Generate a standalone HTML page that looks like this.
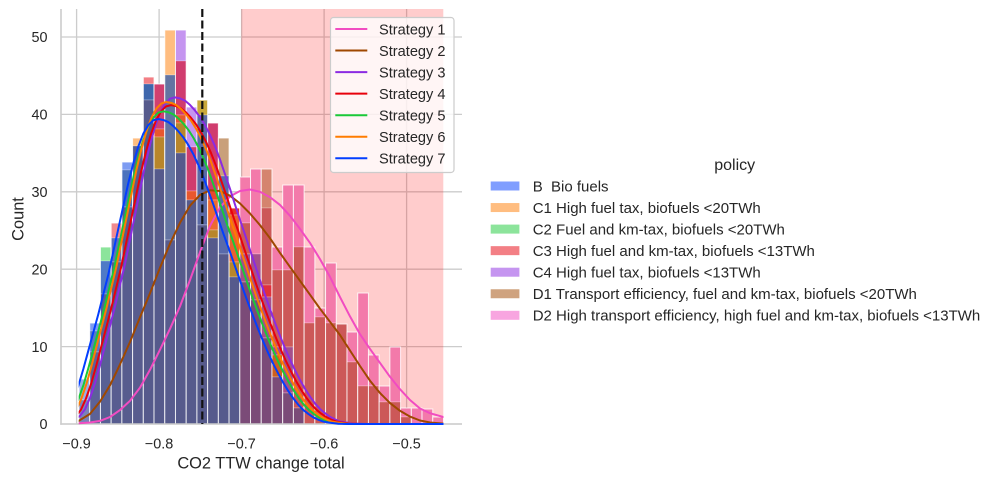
<!DOCTYPE html>
<html><head><meta charset="utf-8"><style>
html,body{margin:0;padding:0;background:#fff;}
svg{display:block;font-family:"Liberation Sans",Arial,sans-serif;}
.b rect{stroke:#fff;stroke-opacity:.3;stroke-width:.8;}
.b rect.o{fill:none;stroke:#fff;stroke-opacity:.75;stroke-width:1;}
.t{font-size:14.4px;fill:#262626;}
.lg{font-size:14.6px;fill:#262626;}
.pl{font-size:15px;fill:#262626;}
.k{fill:none;stroke-width:2;stroke-linejoin:round;stroke-linecap:round;}
</style></head><body>
<svg width="1000" height="482" viewBox="0 0 1000 482" xmlns="http://www.w3.org/2000/svg">
<rect width="1000" height="482" fill="#fff"/>
<g stroke="#cccccc" stroke-width="1.3">
<line x1="61" y1="424" x2="462" y2="424"/>
<line x1="61" y1="346.6" x2="462" y2="346.6"/>
<line x1="61" y1="269.2" x2="462" y2="269.2"/>
<line x1="61" y1="191.8" x2="462" y2="191.8"/>
<line x1="61" y1="114.4" x2="462" y2="114.4"/>
<line x1="61" y1="37" x2="462" y2="37"/>
<line x1="76.6" y1="9" x2="76.6" y2="424"/>
<line x1="159.1" y1="9" x2="159.1" y2="424"/>
<line x1="241.6" y1="9" x2="241.6" y2="424"/>
<line x1="324.1" y1="9" x2="324.1" y2="424"/>
<line x1="406.6" y1="9" x2="406.6" y2="424"/>
</g>
<rect x="241.3" y="9" width="202" height="415" fill="#ff0000" fill-opacity="0.2"/>

<g class="b">
<g transform="translate(79,0)"><rect y="379" width="10.72" height="21" fill="#9aaee8"/><rect y="400" width="10.72" height="24" fill="#7a82b8"/><rect class="o" y="379" width="10.72" height="45"/></g>
<g transform="translate(89.72,0)"><rect y="323" width="10.72" height="8" fill="#7d9cf0"/><rect y="331" width="10.72" height="21" fill="#5a7ac4"/><rect y="352" width="10.72" height="72" fill="#5c6298"/><rect class="o" y="323" width="10.72" height="101"/></g>
<g transform="translate(100.44,0)"><rect y="247" width="10.72" height="14" fill="#8ce49b"/><rect y="261" width="10.72" height="33" fill="#4f7ac6"/><rect y="294" width="10.72" height="130" fill="#586094"/><rect class="o" y="247" width="10.72" height="177"/></g>
<g transform="translate(111.16,0)"><rect y="223" width="10.72" height="15" fill="#f08a8f"/><rect y="238" width="10.72" height="24" fill="#5f72b6"/><rect y="262" width="10.72" height="162" fill="#585d90"/><rect class="o" y="223" width="10.72" height="201"/></g>
<g transform="translate(121.88,0)"><rect y="162" width="10.72" height="8" fill="#7d9cf2"/><rect y="170" width="10.72" height="37" fill="#4a72bd"/><rect y="207" width="10.72" height="217" fill="#575c8e"/><rect class="o" y="162" width="10.72" height="262"/></g>
<g transform="translate(132.6,0)"><rect y="138" width="10.72" height="8" fill="#ffbd80"/><rect y="146" width="10.72" height="278" fill="#585c8e"/><rect class="o" y="138" width="10.72" height="286"/></g>
<g transform="translate(143.32,0)"><rect y="77" width="10.72" height="7" fill="#f37f85"/><rect y="84" width="10.72" height="16" fill="#3f67ad"/><rect y="100" width="10.72" height="324" fill="#565a8c"/><rect class="o" y="77" width="10.72" height="347"/></g>
<g transform="translate(154.04,0)"><rect y="84" width="10.72" height="45" fill="#d23f70"/><rect y="129" width="10.72" height="8" fill="#e8572e"/><rect y="137" width="10.72" height="32" fill="#b8862b"/><rect y="169" width="10.72" height="255" fill="#565a8c"/><rect class="o" y="84" width="10.72" height="340"/></g>
<g transform="translate(164.76,0)"><rect y="30" width="10.72" height="45" fill="#ffbd80"/><rect y="75" width="10.72" height="165" fill="#6474a2"/><rect y="240" width="10.72" height="184" fill="#585c8e"/><rect class="o" y="30" width="10.72" height="394"/></g>
<g transform="translate(175.48,0)"><rect y="30" width="10.72" height="31" fill="#c595f0"/><rect y="61" width="10.72" height="54" fill="#d03c6e"/><rect y="115" width="10.72" height="8" fill="#e8572e"/><rect y="123" width="10.72" height="30" fill="#b8862b"/><rect y="153" width="10.72" height="271" fill="#565a8c"/><rect class="o" y="30" width="10.72" height="394"/></g>
<g transform="translate(186.2,0)"><rect y="107" width="10.72" height="40" fill="#c595f0"/><rect y="147" width="10.72" height="44" fill="#d03c6e"/><rect y="191" width="10.72" height="9" fill="#e8572e"/><rect y="200" width="10.72" height="224" fill="#565a8c"/><rect class="o" y="107" width="10.72" height="317"/></g>
<g transform="translate(196.92,0)"><rect y="100" width="10.72" height="15" fill="#c9a83a"/><rect y="115" width="10.72" height="110" fill="#5b6aa6"/><rect y="225" width="10.72" height="199" fill="#565a8c"/><rect class="o" y="100" width="10.72" height="324"/></g>
<g transform="translate(207.64,0)"><rect y="123" width="10.72" height="67" fill="#d03c6e"/><rect y="190" width="10.72" height="10" fill="#e8472e"/><rect y="200" width="10.72" height="30" fill="#ee6a30"/><rect y="230" width="10.72" height="8" fill="#b8862b"/><rect y="238" width="10.72" height="186" fill="#565a8c"/><rect class="o" y="123" width="10.72" height="301"/></g>
<g transform="translate(218.36,0)"><rect y="138" width="10.72" height="38" fill="#c9a07a"/><rect y="176" width="10.72" height="78" fill="#5a6aaa"/><rect y="254" width="10.72" height="170" fill="#565a8c"/><rect class="o" y="138" width="10.72" height="286"/></g>
<g transform="translate(229.08,0)"><rect y="208" width="10.72" height="7" fill="#e8302a"/><rect y="215" width="10.72" height="47" fill="#ea6030"/><rect y="262" width="10.72" height="15" fill="#b8862b"/><rect y="277" width="10.72" height="147" fill="#565a8c"/><rect class="o" y="208" width="10.72" height="216"/></g>
<g transform="translate(239.8,0)"><rect y="177" width="10.72" height="46" fill="#f37aaa"/><rect y="223" width="10.72" height="31" fill="#cc5858"/><rect y="254" width="10.72" height="28" fill="#a5508a"/><rect y="282" width="10.72" height="142" fill="#7b4b78"/><rect class="o" y="177" width="10.72" height="247"/></g>
<g transform="translate(250.52,0)"><rect y="169" width="10.72" height="85" fill="#f37aaa"/><rect y="254" width="10.72" height="46" fill="#a5508a"/><rect y="300" width="10.72" height="124" fill="#7b4b78"/><rect class="o" y="169" width="10.72" height="255"/></g>
<g transform="translate(261.24,0)"><rect y="169" width="10.72" height="39" fill="#d5846e"/><rect y="208" width="10.72" height="77" fill="#cc5858"/><rect y="285" width="10.72" height="12" fill="#e0303c"/><rect y="297" width="10.72" height="41" fill="#a5508a"/><rect y="338" width="10.72" height="86" fill="#7b4b78"/><rect class="o" y="169" width="10.72" height="255"/></g>
<g transform="translate(271.96,0)"><rect y="247" width="10.72" height="23" fill="#f37aaa"/><rect y="270" width="10.72" height="77" fill="#cc5858"/><rect y="347" width="10.72" height="8" fill="#a04a90"/><rect y="355" width="10.72" height="22" fill="#cc6020"/><rect y="377" width="10.72" height="47" fill="#7b4b78"/><rect class="o" y="247" width="10.72" height="177"/></g>
<g transform="translate(282.68,0)"><rect y="185" width="10.72" height="85" fill="#f37aaa"/><rect y="270" width="10.72" height="77" fill="#cc5858"/><rect y="347" width="10.72" height="46" fill="#a5508a"/><rect y="393" width="10.72" height="31" fill="#7b4b78"/><rect class="o" y="185" width="10.72" height="239"/></g>
<g transform="translate(293.4,0)"><rect y="185" width="10.72" height="62" fill="#f37aaa"/><rect y="247" width="10.72" height="161" fill="#cc5858"/><rect y="408" width="10.72" height="16" fill="#7b4b78"/><rect class="o" y="185" width="10.72" height="239"/></g>
<g transform="translate(304.12,0)"><rect y="247" width="10.72" height="76" fill="#f37aaa"/><rect y="323" width="10.72" height="101" fill="#cc5858"/><rect class="o" y="247" width="10.72" height="177"/></g>
<g transform="translate(314.84,0)"><rect y="308" width="10.72" height="9" fill="#f37aaa"/><rect y="317" width="10.72" height="107" fill="#cc5858"/><rect class="o" y="308" width="10.72" height="116"/></g>
<g transform="translate(325.56,0)"><rect y="263" width="10.72" height="60" fill="#f37aaa"/><rect y="323" width="10.72" height="101" fill="#cc5858"/><rect class="o" y="263" width="10.72" height="161"/></g>
<g transform="translate(336.28,0)"><rect y="324" width="10.72" height="100" fill="#cc5858"/><rect class="o" y="324" width="10.72" height="100"/></g>
<g transform="translate(347,0)"><rect y="332" width="10.72" height="30" fill="#f37aaa"/><rect y="362" width="10.72" height="62" fill="#cc5858"/><rect class="o" y="332" width="10.72" height="92"/></g>
<g transform="translate(357.72,0)"><rect y="293" width="10.72" height="93" fill="#f37aaa"/><rect y="386" width="10.72" height="38" fill="#cc5858"/><rect class="o" y="293" width="10.72" height="131"/></g>
<g transform="translate(368.44,0)"><rect y="355" width="10.72" height="31" fill="#f37aaa"/><rect y="386" width="10.72" height="38" fill="#cc5858"/><rect class="o" y="355" width="10.72" height="69"/></g>
<g transform="translate(379.16,0)"><rect y="386" width="10.72" height="16" fill="#f37aaa"/><rect y="402" width="10.72" height="22" fill="#cc5858"/><rect class="o" y="386" width="10.72" height="38"/></g>
<g transform="translate(389.88,0)"><rect y="347" width="10.72" height="55" fill="#f37aaa"/><rect y="402" width="10.72" height="22" fill="#cc5858"/><rect class="o" y="347" width="10.72" height="77"/></g>
<g transform="translate(400.6,0)"><rect y="408" width="10.72" height="9" fill="#f37aaa"/><rect y="417" width="10.72" height="7" fill="#cc5858"/><rect class="o" y="408" width="10.72" height="16"/></g>
<g transform="translate(411.32,0)"><rect y="408" width="10.72" height="16" fill="#f37aaa"/><rect class="o" y="408" width="10.72" height="16"/></g>
<g transform="translate(422.04,0)"><rect y="409" width="10.72" height="15" fill="#f37aaa"/><rect class="o" y="409" width="10.72" height="15"/></g>
<g transform="translate(432.76,0)"><rect y="417" width="10.72" height="7" fill="#f37aaa"/><rect class="o" y="417" width="10.72" height="7"/></g>
</g>

<g stroke="#cccccc" stroke-width="1.6">
<line x1="61" y1="9" x2="61" y2="424.8"/>
<line x1="60.2" y1="424" x2="462" y2="424"/>
</g>

<defs>
<clipPath id="kc"><rect x="78.7" y="0" width="364.8" height="440"/></clipPath>
</defs>
<g clip-path="url(#kc)">
<polyline class="k" stroke="#f14cc1" points="78.7,423.2 90,422.5 100,420.9 110,417.0 120,410.1 130,400.8 140,387.6 150,369.8 160,349.7 170,328.8 180,306.4 190,280.0 200,252.2 210,225.9 220,207.3 230,196.4 240,191.0 250,189.5 260,191.8 270,197.2 280,204.9 290,215.8 300,228.9 310,242.9 320,259.1 330,276.9 340,297.1 350,316.4 360,334.2 370,348.9 380,362.9 390,376.8 400,389.2 410,400.0 420,408.5 430,413.2 443.3,417.0"/>
<polyline class="k" stroke="#9f4800" points="78.7,420.9 90,413.9 100,401.6 110,385.3 120,364.4 130,342.0 140,317.2 150,293.2 160,267.7 170,243.7 180,222.8 190,205.7 200,194.9 210,190.3 220,191.0 230,195.7 240,203.4 250,213.5 260,225.1 270,238.2 280,252.9 290,266.9 300,280.8 310,294.7 320,308.7 330,321.8 340,335.0 350,350.5 360,366.0 370,380.7 380,393.0 390,403.1 400,410.8 410,416.6 420,420.5 430,422.5 443.3,423.6"/>
<path class="k" vector-effect="non-scaling-stroke" stroke="#8b2be2" transform="translate(175,424) scale(1,326.6)" d="M-100,-0.015 L-95,-0.025 -90,-0.045 -85,-0.08 -80,-0.125 -75,-0.18 -70,-0.24 -65,-0.30 -60,-0.36 -55,-0.425 -50,-0.49 -45,-0.565 -40,-0.64 -35,-0.715 -30,-0.79 -25,-0.855 -20,-0.91 -15,-0.952 -10,-0.98 -5,-0.996 0,-1 5,-0.997 10,-0.99 15,-0.977 20,-0.96 25,-0.94 30,-0.915 35,-0.885 40,-0.85 45,-0.81 50,-0.765 55,-0.72 60,-0.672 65,-0.625 70,-0.58 75,-0.533 80,-0.487 85,-0.44 90,-0.395 95,-0.352 100,-0.31 105,-0.27 110,-0.232 115,-0.197 120,-0.165 125,-0.135 130,-0.108 135,-0.084 140,-0.063 145,-0.046 150,-0.033 155,-0.022 160,-0.014 165,-0.008 170,-0.005 180,-0.001 190,0 320,0"/>
<path class="k" vector-effect="non-scaling-stroke" stroke="#e8000b" transform="translate(171,424) scale(1,318.9)" d="M-100,-0.015 L-95,-0.025 -90,-0.045 -85,-0.08 -80,-0.125 -75,-0.18 -70,-0.24 -65,-0.30 -60,-0.36 -55,-0.425 -50,-0.49 -45,-0.565 -40,-0.64 -35,-0.715 -30,-0.79 -25,-0.855 -20,-0.91 -15,-0.952 -10,-0.98 -5,-0.996 0,-1 5,-0.997 10,-0.99 15,-0.977 20,-0.96 25,-0.94 30,-0.915 35,-0.885 40,-0.85 45,-0.81 50,-0.765 55,-0.72 60,-0.672 65,-0.625 70,-0.58 75,-0.533 80,-0.487 85,-0.44 90,-0.395 95,-0.352 100,-0.31 105,-0.27 110,-0.232 115,-0.197 120,-0.165 125,-0.135 130,-0.108 135,-0.084 140,-0.063 145,-0.046 150,-0.033 155,-0.022 160,-0.014 165,-0.008 170,-0.005 180,-0.001 190,0 320,0"/>
<path class="k" vector-effect="non-scaling-stroke" stroke="#1ac938" transform="translate(163.5,424) scale(1,312.7)" d="M-100,-0.015 L-95,-0.025 -90,-0.045 -85,-0.08 -80,-0.125 -75,-0.18 -70,-0.24 -65,-0.30 -60,-0.36 -55,-0.425 -50,-0.49 -45,-0.565 -40,-0.64 -35,-0.715 -30,-0.79 -25,-0.855 -20,-0.91 -15,-0.952 -10,-0.98 -5,-0.996 0,-1 5,-0.997 10,-0.99 15,-0.977 20,-0.96 25,-0.94 30,-0.915 35,-0.885 40,-0.85 45,-0.81 50,-0.765 55,-0.72 60,-0.672 65,-0.625 70,-0.58 75,-0.533 80,-0.487 85,-0.44 90,-0.395 95,-0.352 100,-0.31 105,-0.27 110,-0.232 115,-0.197 120,-0.165 125,-0.135 130,-0.108 135,-0.084 140,-0.063 145,-0.046 150,-0.033 155,-0.022 160,-0.014 165,-0.008 170,-0.005 180,-0.001 190,0 320,0"/>
<path class="k" vector-effect="non-scaling-stroke" stroke="#ff7c00" transform="translate(166.5,424) scale(1,322)" d="M-100,-0.015 L-95,-0.025 -90,-0.045 -85,-0.08 -80,-0.125 -75,-0.18 -70,-0.24 -65,-0.30 -60,-0.36 -55,-0.425 -50,-0.49 -45,-0.565 -40,-0.64 -35,-0.715 -30,-0.79 -25,-0.855 -20,-0.91 -15,-0.952 -10,-0.98 -5,-0.996 0,-1 5,-0.997 10,-0.99 15,-0.977 20,-0.96 25,-0.94 30,-0.915 35,-0.885 40,-0.85 45,-0.81 50,-0.765 55,-0.72 60,-0.672 65,-0.625 70,-0.58 75,-0.533 80,-0.487 85,-0.44 90,-0.395 95,-0.352 100,-0.31 105,-0.27 110,-0.232 115,-0.197 120,-0.165 125,-0.135 130,-0.108 135,-0.084 140,-0.063 145,-0.046 150,-0.033 155,-0.022 160,-0.014 165,-0.008 170,-0.005 180,-0.001 190,0 320,0"/>
<path class="k" vector-effect="non-scaling-stroke" stroke="#023eff" transform="translate(158.3,424) scale(1,304.96)" d="M-100,-0.015 L-95,-0.025 -90,-0.045 -85,-0.08 -80,-0.125 -75,-0.18 -70,-0.24 -65,-0.30 -60,-0.36 -55,-0.425 -50,-0.49 -45,-0.565 -40,-0.64 -35,-0.715 -30,-0.79 -25,-0.855 -20,-0.91 -15,-0.952 -10,-0.98 -5,-0.996 0,-1 5,-0.997 10,-0.99 15,-0.977 20,-0.96 25,-0.94 30,-0.915 35,-0.885 40,-0.85 45,-0.81 50,-0.765 55,-0.72 60,-0.672 65,-0.625 70,-0.58 75,-0.533 80,-0.487 85,-0.44 90,-0.395 95,-0.352 100,-0.31 105,-0.27 110,-0.232 115,-0.197 120,-0.165 125,-0.135 130,-0.108 135,-0.084 140,-0.063 145,-0.046 150,-0.033 155,-0.022 160,-0.014 165,-0.008 170,-0.005 180,-0.001 190,0 320,0"/>
</g>

<line x1="202.3" y1="9" x2="202.3" y2="424" stroke="#111" stroke-width="2.2" stroke-dasharray="8 3.5"/>

<rect x="330.5" y="17.5" width="123.5" height="155" rx="3" ry="3" fill="#fff" fill-opacity="0.8" stroke="#cccccc" stroke-width="1.2"/>
<g stroke-width="2">
<line x1="335.3" y1="29" x2="367.3" y2="29" stroke="#f14cc1"/>
<line x1="335.3" y1="50.55" x2="367.3" y2="50.55" stroke="#9f4800"/>
<line x1="335.3" y1="72.1" x2="367.3" y2="72.1" stroke="#8b2be2"/>
<line x1="335.3" y1="93.65" x2="367.3" y2="93.65" stroke="#e8000b"/>
<line x1="335.3" y1="115.2" x2="367.3" y2="115.2" stroke="#1ac938"/>
<line x1="335.3" y1="136.75" x2="367.3" y2="136.75" stroke="#ff7c00"/>
<line x1="335.3" y1="158.3" x2="367.3" y2="158.3" stroke="#023eff"/>
</g>
<g class="lg">
<text x="379" y="34.3">Strategy 1</text>
<text x="379" y="55.85">Strategy 2</text>
<text x="379" y="77.4">Strategy 3</text>
<text x="379" y="98.95">Strategy 4</text>
<text x="379" y="120.5">Strategy 5</text>
<text x="379" y="142.05">Strategy 6</text>
<text x="379" y="163.6">Strategy 7</text>
</g>

<g class="t" text-anchor="end">
<text x="47.5" y="429.2">0</text>
<text x="47.5" y="351.8">10</text>
<text x="47.5" y="274.4">20</text>
<text x="47.5" y="197">30</text>
<text x="47.5" y="119.6">40</text>
<text x="47.5" y="42.2">50</text>
</g>
<g class="t" text-anchor="middle">
<text x="76.6" y="448.3">−0.9</text>
<text x="159.1" y="448.3">−0.8</text>
<text x="241.6" y="448.3">−0.7</text>
<text x="324.1" y="448.3">−0.6</text>
<text x="406.6" y="448.3">−0.5</text>
</g>
<text x="261" y="468.5" text-anchor="middle" font-size="16.4" fill="#262626">CO2 TTW change total</text>
<text transform="translate(23.3,219) rotate(-90)" text-anchor="middle" font-size="16.4" fill="#262626">Count</text>

<text x="734.7" y="170" text-anchor="middle" font-size="16" fill="#262626">policy</text>
<g>
<rect x="490.7" y="181.5" width="28.7" height="9" fill="#809eff"/>
<rect x="490.7" y="203.05" width="28.7" height="9" fill="#ffbd80"/>
<rect x="490.7" y="224.6" width="28.7" height="9" fill="#8ce49b"/>
<rect x="490.7" y="246.15" width="28.7" height="9" fill="#f37f85"/>
<rect x="490.7" y="267.7" width="28.7" height="9" fill="#c595f0"/>
<rect x="490.7" y="289.25" width="28.7" height="9" fill="#cfa37f"/>
<rect x="490.7" y="310.8" width="28.7" height="9" fill="#f8a5e0"/>
</g>
<g class="pl">
<text x="532.7" y="191.3">B&#160; Bio fuels</text>
<text x="532.7" y="212.85">C1 High fuel tax, biofuels &lt;20TWh</text>
<text x="532.7" y="234.4">C2 Fuel and km-tax, biofuels &lt;20TWh</text>
<text x="532.7" y="255.95">C3 High fuel and km-tax, biofuels &lt;13TWh</text>
<text x="532.7" y="277.5">C4 High fuel tax, biofuels &lt;13TWh</text>
<text x="532.7" y="299.05">D1 Transport efficiency, fuel and km-tax, biofuels &lt;20TWh</text>
<text x="532.7" y="320.6">D2 High transport efficiency, high fuel and km-tax, biofuels &lt;13TWh</text>
</g>
</svg>
</body></html>
